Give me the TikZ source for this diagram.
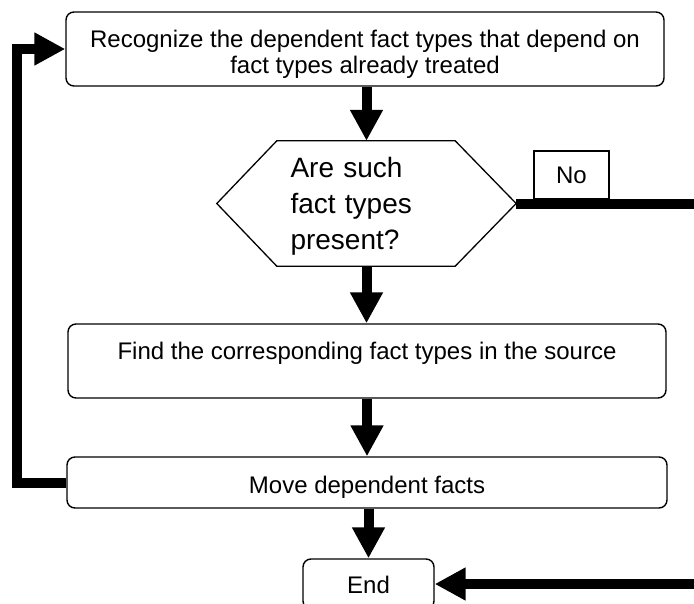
\documentclass[tikz,border=0pt]{standalone}
\usepackage{fontspec}
\setmainfont{Liberation Sans}
\usetikzlibrary{arrows.meta,positioning}

\begin{document}
\begin{tikzpicture}[x=1pt,y=-1pt,
  box/.style={
    draw,
    rounded corners=8pt,
    line width=1.4pt,
    inner sep=0pt,
    align=center,
    font=\fontsize{24}{26}\selectfont
  },
  flow/.style={line width=10pt, -{Triangle[length=31pt,width=31pt]}},
  shape line/.style={line width=1.3pt}
]
\useasboundingbox (0,0) rectangle (694,603);
\clip (0,0) rectangle (694,603);

% --- steps ---
\node[box, minimum width=598pt, text height=61pt, text depth=13pt] (recog) at (365,49)
  {Recognize the dependent fact types that depend on\\fact types already treated};
\node[minimum width=299pt, inner sep=0pt, text height=36pt, text depth=89pt,
  text width=152pt, align=left, font=\fontsize{28}{36}\selectfont] (ask) at (366.5,203.5)
  {Are such\\fact types\\present?};
\draw[shape line] (ask.west) -- ([xshift=60pt]ask.north west) -- ([xshift=-61pt]ask.north east)
  -- (ask.east) -- ([xshift=-61pt]ask.south east) -- ([xshift=60pt]ask.south west) -- cycle;
\node[box, minimum width=598pt, text height=35pt, text depth=39pt] (find) at (367,361)
  {Find the corresponding fact types in the source};
\node[box, minimum width=600pt, text height=36pt, text depth=15pt] (move) at (367,482.5)
  {Move dependent facts};
\node[box, minimum width=131pt, text height=34pt, text depth=16pt] (end) at (368.5,584) {End};
\node[box, sharp corners, minimum width=75pt, text height=32.5pt, text depth=15.5pt] (no) at (571.5,175) {No};

% --- arrows ---
\draw[flow] (ask.north |- recog.south) -- (ask.north);
\draw[flow] (ask.south) -- (ask.south |- find.north);
\draw[flow] (find.south) -- (move.north);
\draw[flow] (move.south -| end.north) -- (end.north);

% --- loop back and exit ---
\draw[flow] (move.west) -- ++(-49,0) |- (recog.west);
\draw[flow] (ask.east) -- ++(190,0) |- (end.east);

\end{tikzpicture}
\end{document}
